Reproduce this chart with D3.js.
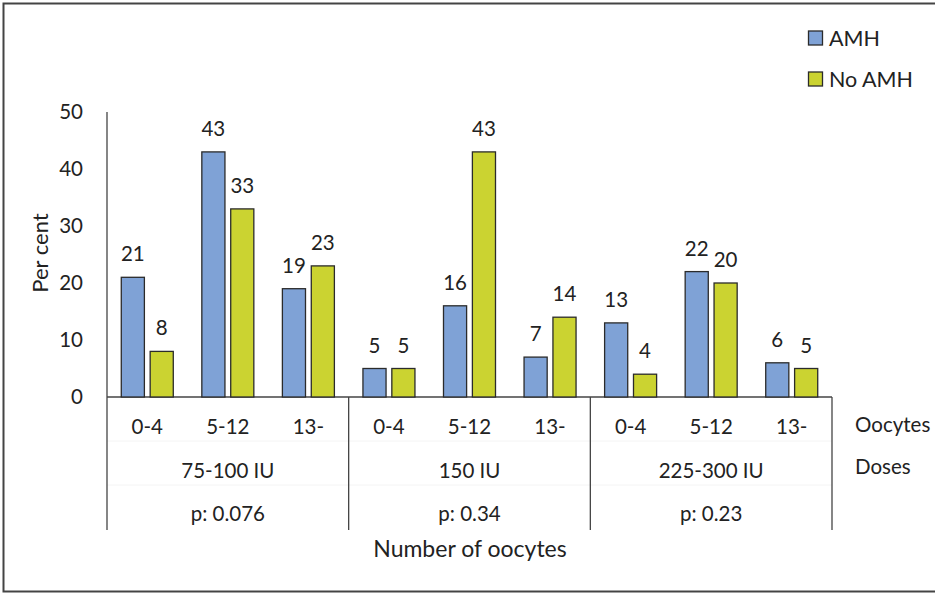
<!DOCTYPE html>
<html>
<head>
<meta charset="utf-8">
<script src="https://cdn.jsdelivr.net/npm/d3@7"></script>
<style>
  html, body { margin: 0; padding: 0; background: #fff; }
  svg { display: block; }
  text { font-family: Lato, "Open Sans", sans-serif; fill: #222; }
</style>
</head>
<body>
<svg id="chart" width="935" height="593"></svg>
<script>
// Dose groups, oocyte categories and series
const doses = ["75-100 IU", "150 IU", "225-300 IU"];
const pValues = ["p: 0.076", "p: 0.34", "p: 0.23"];
const oocyteBins = ["0-4", "5-12", "13-"];
const seriesNames = ["AMH", "No AMH"];
// Percentages per dose group, one per oocyte bin
const amhValues = [
  [21, 43, 19],
  [5, 16, 7],
  [13, 22, 6]
];
const noAmhValues = [
  [8, 33, 23],
  [5, 43, 14],
  [4, 20, 5]
];
const yTicks = [0, 10, 20, 30, 40, 50];

const colors = { "AMH": "#7fa2d6", "No AMH": "#cbd331" };
const stroke = "#2b2b2b";
const fs = 20.5;

const svg = d3.select("#chart");

// outer frame
svg.append("rect")
  .attr("x", 3.5).attr("y", 3.5)
  .attr("width", 940).attr("height", 588)
  .attr("fill", "none").attr("stroke", "#444").attr("stroke-width", 2);

const plotLeft = 107, plotRight = 832;
const y = d3.scaleLinear().domain([0, 50]).range([397, 112]);

const xDose = d3.scaleBand().domain(doses).range([plotLeft, plotRight]).padding(0);
const xBin = d3.scaleBand().domain(oocyteBins).range([0, xDose.bandwidth()]).padding(0);
const pairW = 52;
const xSeries = d3.scaleBand().domain(seriesNames)
  .range([(xBin.bandwidth() - pairW) / 2, (xBin.bandwidth() + pairW) / 2])
  .paddingInner(0.2).paddingOuter(0);

// flatten data
const rows = [];
doses.forEach((d, i) => {
  oocyteBins.forEach((b, j) => {
    rows.push({ dose: d, bin: b, series: "AMH", value: amhValues[i][j] });
    rows.push({ dose: d, bin: b, series: "No AMH", value: noAmhValues[i][j] });
  });
});

// faint row guides in the category table
[441, 485].forEach(gy => {
  svg.append("line")
    .attr("x1", plotLeft).attr("x2", plotRight)
    .attr("y1", gy).attr("y2", gy)
    .attr("stroke", "#f4f4f4").attr("stroke-width", 1);
});

// y axis (no tick marks)
const yAxis = d3.axisLeft(y).tickValues(yTicks).tickSize(0).tickPadding(24);
const gy = svg.append("g").attr("transform", `translate(${plotLeft},0)`).call(yAxis);
gy.select(".domain").attr("stroke", "#444").attr("stroke-width", 1.3)
  .attr("d", `M0,${y(50)}V${530}`);
gy.selectAll("text").attr("font-size", fs).attr("font-family", "Lato").attr("fill", "#222")
  .attr("dy", "0.34em");

// baseline
svg.append("line")
  .attr("x1", plotLeft).attr("x2", plotRight)
  .attr("y1", y(0)).attr("y2", y(0))
  .attr("stroke", "#444").attr("stroke-width", 1.3);

// group separators extending into the table
doses.slice(1).concat([null]).forEach(d => {
  const gx = d ? xDose(d) : plotRight;
  svg.append("line")
    .attr("x1", gx).attr("x2", gx)
    .attr("y1", y(0)).attr("y2", 530)
    .attr("stroke", "#444").attr("stroke-width", 1.3);
});

// bars
const barX = r => xDose(r.dose) + xBin(r.bin) + xSeries(r.series);
svg.append("g").selectAll("rect").data(rows).join("rect")
  .attr("x", barX)
  .attr("y", r => y(r.value))
  .attr("width", xSeries.bandwidth())
  .attr("height", r => y(0) - y(r.value))
  .attr("fill", r => colors[r.series])
  .attr("stroke", stroke).attr("stroke-width", 1.3);

// value labels
svg.append("g").selectAll("text").data(rows).join("text")
  .attr("x", r => barX(r) + xSeries.bandwidth() / 2)
  .attr("y", r => y(r.value) - 16)
  .attr("text-anchor", "middle")
  .attr("font-size", fs)
  .text(r => r.value);

// category table text
doses.forEach((d, i) => {
  oocyteBins.forEach(b => {
    svg.append("text")
      .attr("x", xDose(d) + xBin(b) + xBin.bandwidth() / 2)
      .attr("y", 434)
      .attr("text-anchor", "middle").attr("font-size", fs)
      .text(b);
  });
  svg.append("text")
    .attr("x", xDose(d) + xDose.bandwidth() / 2)
    .attr("y", 478)
    .attr("text-anchor", "middle").attr("font-size", fs)
    .text(d);
  svg.append("text")
    .attr("x", xDose(d) + xDose.bandwidth() / 2)
    .attr("y", 521)
    .attr("text-anchor", "middle").attr("font-size", fs)
    .text(pValues[i]);
});

svg.append("text").attr("x", 855).attr("y", 432).attr("font-size", fs).text("Oocytes");
svg.append("text").attr("x", 855).attr("y", 474).attr("font-size", fs).text("Doses");

// axis titles
svg.append("text")
  .attr("x", 470).attr("y", 557)
  .attr("text-anchor", "middle").attr("font-size", 23)
  .text("Number of oocytes");

svg.append("text")
  .attr("transform", "translate(48,253) rotate(-90)")
  .attr("text-anchor", "middle").attr("font-size", 22)
  .text("Per cent");

// legend
const legend = svg.append("g");
seriesNames.forEach((s, i) => {
  const ly = 38 + i * 41;
  legend.append("rect")
    .attr("x", 808.5).attr("y", ly - 7)
    .attr("width", 14).attr("height", 14)
    .attr("fill", colors[s]).attr("stroke", stroke).attr("stroke-width", 1.3);
  legend.append("text")
    .attr("x", 829).attr("y", ly).attr("dy", "0.36em")
    .attr("font-size", 21.5)
    .text(s);
});
</script>
</body>
</html>
